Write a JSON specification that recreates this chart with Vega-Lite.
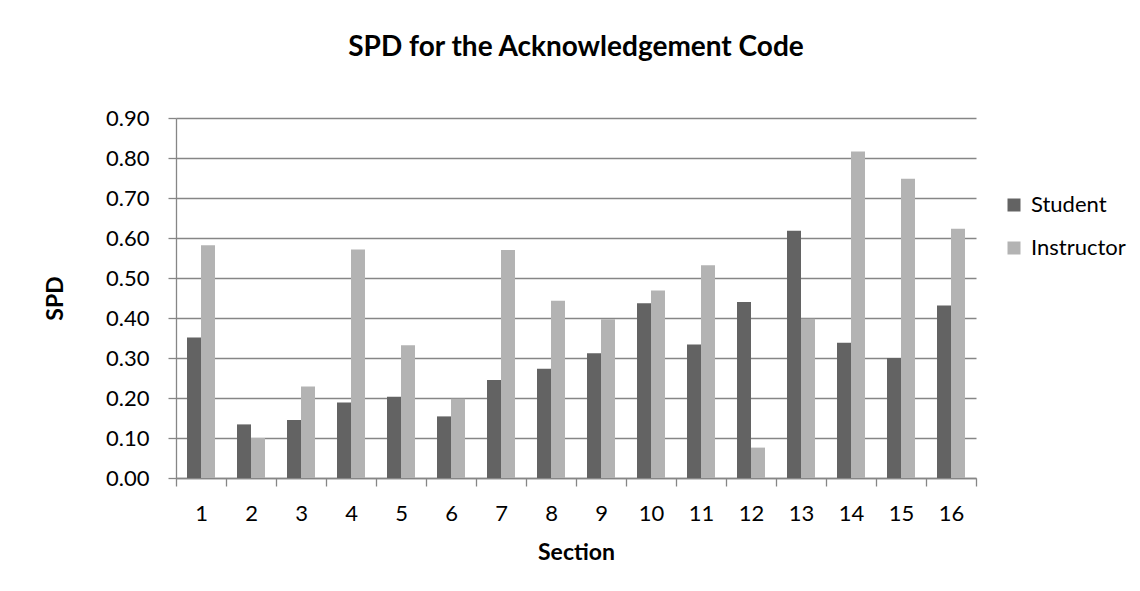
{
  "$schema": "https://vega.github.io/schema/vega-lite/v6.json",
  "autosize": {"type": "none"},
  "padding": {"left": 176, "top": 118, "right": 164, "bottom": 113},
  "width": 800,
  "height": 360,
  "background": "white",
  "title": {
    "text": "SPD for the Acknowledgement Code",
    "font": "Lato",
    "fontSize": 28,
    "fontWeight": "bold",
    "color": "black",
    "anchor": "middle",
    "offset": 45
  },
  "data": {
    "values": [
      {"Section": 1, "Group": "Student", "SPD": 0.351},
      {"Section": 1, "Group": "Instructor", "SPD": 0.582},
      {"Section": 2, "Group": "Student", "SPD": 0.134},
      {"Section": 2, "Group": "Instructor", "SPD": 0.100},
      {"Section": 3, "Group": "Student", "SPD": 0.145},
      {"Section": 3, "Group": "Instructor", "SPD": 0.229},
      {"Section": 4, "Group": "Student", "SPD": 0.189},
      {"Section": 4, "Group": "Instructor", "SPD": 0.571},
      {"Section": 5, "Group": "Student", "SPD": 0.203},
      {"Section": 5, "Group": "Instructor", "SPD": 0.332},
      {"Section": 6, "Group": "Student", "SPD": 0.154},
      {"Section": 6, "Group": "Instructor", "SPD": 0.198},
      {"Section": 7, "Group": "Student", "SPD": 0.245},
      {"Section": 7, "Group": "Instructor", "SPD": 0.570},
      {"Section": 8, "Group": "Student", "SPD": 0.273},
      {"Section": 8, "Group": "Instructor", "SPD": 0.443},
      {"Section": 9, "Group": "Student", "SPD": 0.312},
      {"Section": 9, "Group": "Instructor", "SPD": 0.397},
      {"Section": 10, "Group": "Student", "SPD": 0.437},
      {"Section": 10, "Group": "Instructor", "SPD": 0.469},
      {"Section": 11, "Group": "Student", "SPD": 0.334},
      {"Section": 11, "Group": "Instructor", "SPD": 0.532},
      {"Section": 12, "Group": "Student", "SPD": 0.440},
      {"Section": 12, "Group": "Instructor", "SPD": 0.076},
      {"Section": 13, "Group": "Student", "SPD": 0.618},
      {"Section": 13, "Group": "Instructor", "SPD": 0.398},
      {"Section": 14, "Group": "Student", "SPD": 0.338},
      {"Section": 14, "Group": "Instructor", "SPD": 0.816},
      {"Section": 15, "Group": "Student", "SPD": 0.300},
      {"Section": 15, "Group": "Instructor", "SPD": 0.748},
      {"Section": 16, "Group": "Student", "SPD": 0.431},
      {"Section": 16, "Group": "Instructor", "SPD": 0.623}
    ]
  },
  "mark": {"type": "bar"},
  "encoding": {
    "x": {
      "field": "Section",
      "type": "ordinal",
      "scale": {"paddingInner": 0, "paddingOuter": 0},
      "axis": {
        "title": "Section",
        "labelAngle": 0,
        "tickBand": "extent",
        "tickSize": 8,
        "tickColor": "#868686",
        "tickWidth": 1.3,
        "domainColor": "#868686",
        "domainWidth": 1.3,
        "labelPadding": 17,
        "titlePadding": 17,
        "grid": false
      }
    },
    "xOffset": {
      "field": "Group",
      "type": "nominal",
      "sort": ["Student", "Instructor"],
      "scale": {"paddingInner": 0, "paddingOuter": 0.786}
    },
    "y": {
      "field": "SPD",
      "type": "quantitative",
      "scale": {"domain": [0, 0.9], "nice": false},
      "axis": {
        "title": "SPD",
        "values": [0, 0.1, 0.2, 0.3, 0.4, 0.5, 0.6, 0.7, 0.8, 0.9],
        "format": ".2f",
        "tickSize": 8,
        "tickColor": "#868686",
        "tickWidth": 1.3,
        "domainColor": "#868686",
        "domainWidth": 1.3,
        "grid": true,
        "gridColor": "#868686",
        "gridWidth": 1.3,
        "labelPadding": 19,
        "titlePadding": 38
      }
    },
    "color": {
      "field": "Group",
      "type": "nominal",
      "sort": ["Student", "Instructor"],
      "scale": {"domain": ["Student", "Instructor"], "range": ["#636363", "#b3b3b3"]},
      "legend": {
        "title": null,
        "orient": "none",
        "legendX": 827,
        "legendY": 76,
        "symbolType": "square",
        "symbolSize": 169,
        "symbolStrokeWidth": 0,
        "labelFontSize": 22,
        "labelFont": "Lato",
        "labelColor": "black",
        "labelOffset": 6,
        "rowPadding": 21,
        "padding": 0
      }
    }
  },
  "config": {
    "view": {"stroke": null},
    "axis": {
      "labelFont": "Lato",
      "labelFontSize": 22,
      "labelColor": "black",
      "titleFont": "Lato",
      "titleFontSize": 23,
      "titleFontWeight": "bold",
      "titleColor": "black"
    }
  }
}
